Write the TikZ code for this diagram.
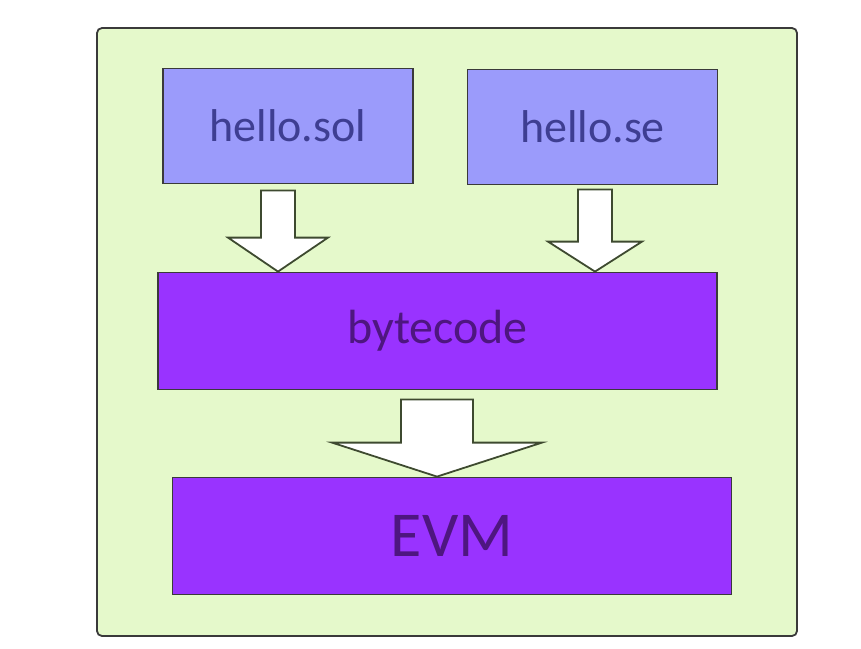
\documentclass[tikz,border=0pt]{standalone}
\usepackage{fontspec}
\setmainfont{Carlito}
\usepackage{tikz}
\usetikzlibrary{calc}
\definecolor{frame}{HTML}{E5F9CB}
\definecolor{srcfill}{HTML}{9B9BFB}
\definecolor{bytefill}{HTML}{9933FF}
\definecolor{srctext}{HTML}{3E3E92}
\definecolor{bytetext}{HTML}{4E1680}
\definecolor{edge}{HTML}{3A3A3A}
\definecolor{arrowedge}{HTML}{3E4A30}
\tikzset{
 srcbox/.style={rectangle,draw=edge,line width=1.8pt,fill=srcfill,text=srctext,minimum width=250pt,minimum height=115pt,font=\fontsize{46}{50}\selectfont},
 bytebox/.style={rectangle,draw=edge,line width=1.8pt,fill=bytefill,text=bytetext,minimum width=559pt,minimum height=117pt},
 blockarrow/.style={draw=arrowedge,line width=1.8pt,fill=white,line join=miter}
}
\begin{document}
\begin{tikzpicture}[x=1pt,y=-1pt]
\useasboundingbox (0,0) rectangle (861,648);
\draw[draw=edge,line width=1.8pt,fill=frame,rounded corners=5pt] (97,28) rectangle (797,636);
\node[srcbox](sol) at (288,126){hello.sol};
\node[srcbox](se) at (592.5,127){hello.se};
\node[bytebox,font=\fontsize{48}{54}\selectfont](bytecode) at (437.5,331){bytecode};
\node[bytebox,font=\fontsize{64}{70}\selectfont](evm) at (452,536){EVM};
\foreach \from/\to/\dx/\gap/\sw/\hw/\hl in {sol/bytecode/-10/6/17/50/34,se/bytecode/2.5/4/17/47/30,bytecode/evm/-0.5/9/36/105/34}
 \draw[blockarrow] let \p1=($(\from.south)+(\dx,0)$), \p2=(\to.north) in
  (\x1-\sw pt,\y1-\gap pt) -- (\x1+\sw pt,\y1-\gap pt) -- (\x1+\sw pt,\y2+\hl pt)
  -- (\x1+\hw pt,\y2+\hl pt) -- (\x1,\y2) -- (\x1-\hw pt,\y2+\hl pt)
  -- (\x1-\sw pt,\y2+\hl pt) -- cycle;
\end{tikzpicture}
\end{document}
